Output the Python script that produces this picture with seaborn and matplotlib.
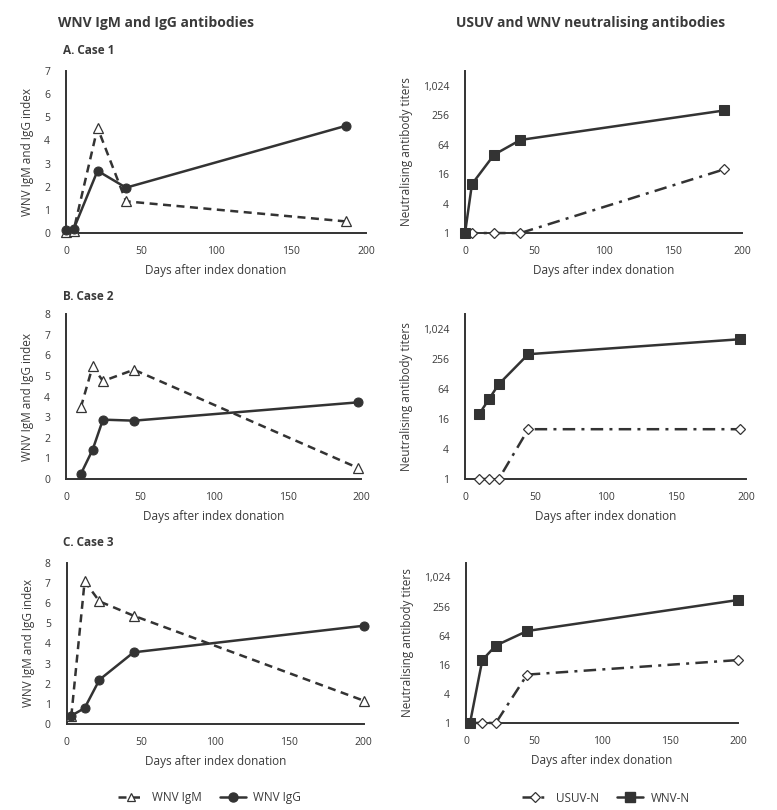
"""WNV IgM/IgG indices and USUV/WNV neutralising titers for three cases."""

import matplotlib
matplotlib.use("Agg")
import matplotlib.pyplot as plt
import seaborn as sns
from matplotlib.lines import Line2D

# ---- data ------------------------------------------------------------------
case1_igm_days = [0, 5, 21, 40, 187]
case1_igm = [0.03, 0.1, 4.55, 1.37, 0.5]
case1_igg_days = [0, 5, 21, 40, 187]
case1_igg = [0.13, 0.16, 2.69, 1.96, 4.64]
case1_n_days = [0, 5, 21, 40, 187]
case1_usuv = [1, 1, 1, 1, 20]
case1_wnv = [1, 10, 40, 80, 320]

case2_igm_days = [10, 18, 25, 46, 198]
case2_igm = [3.47, 5.46, 4.75, 5.3, 0.53]
case2_igg_days = [10, 18, 25, 46, 198]
case2_igg = [0.24, 1.42, 2.88, 2.83, 3.72]
case2_n_days = [10, 17, 24, 45, 196]
case2_usuv = [1, 1, 1, 10, 10]
case2_wnv = [20, 40, 80, 320, 640]

case3_igm_days = [3, 12, 22, 45, 200]
case3_igm = [0.38, 7.09, 6.09, 5.38, 1.16]
case3_igg_days = [3, 12, 22, 45, 200]
case3_igg = [0.41, 0.79, 2.2, 3.56, 4.88]
case3_n_days = [3, 12, 22, 45, 200]
case3_usuv = [1, 1, 1, 10, 20]
case3_wnv = [1, 20, 40, 80, 350]

case_labels = ["A. Case 1", "B. Case 2", "C. Case 3"]
igg_ymax = [7, 8, 8]
titer_ticks = [1, 4, 16, 64, 256, 1024]
titer_labels = ["1", "4", "16", "64", "256", "1,024"]

INK = "#333333"
TEXT = "#3a3a3a"
FONT = ["Open Sans", "DejaVu Sans"]

IGM_DASH = (0, (3.2, 2.2))
USUV_DASH = (0, (5, 2.5, 1.2, 2.5))


def style_axis(ax):
    sns.despine(ax=ax)
    for side in ("left", "bottom"):
        ax.spines[side].set_color(INK)
        ax.spines[side].set_linewidth(1.4)
    ax.tick_params(axis="both", colors=INK, labelcolor=TEXT, labelsize=7.5,
                   length=3.5, width=1.2, direction="out")
    ax.tick_params(axis="y", pad=8)
    ax.tick_params(axis="x", pad=6)
    ax.tick_params(which="minor", length=0)
    ax.set_xlim(0, 200)
    ax.set_xticks([0, 50, 100, 150, 200])
    ax.grid(False)
    ax.set_xlabel("Days after index donation", fontsize=8.5, color=TEXT, labelpad=5)


def draw_igm_igg(ax, igm_days, igm, igg_days, igg, ymax):
    sns.lineplot(x=igm_days, y=igm, ax=ax, color=INK, linewidth=1.8,
                 linestyle=IGM_DASH, marker="^", markersize=6.5,
                 markerfacecolor="white", markeredgecolor=INK, markeredgewidth=0.9,
                 sort=False, zorder=3, clip_on=False)
    sns.lineplot(x=igg_days, y=igg, ax=ax, color=INK, linewidth=1.8,
                 marker="o", markersize=6.5, markerfacecolor=INK,
                 markeredgecolor=INK, sort=False, zorder=4, clip_on=False)
    style_axis(ax)
    ax.set_ylim(0, ymax)
    ax.set_yticks(range(0, ymax + 1))
    ax.set_ylabel("WNV IgM and IgG index", fontsize=8.5, color=TEXT, labelpad=7)


def draw_titers(ax, days, usuv, wnv):
    sns.lineplot(x=days, y=usuv, ax=ax, color=INK, linewidth=1.8,
                 linestyle=USUV_DASH, marker="D", markersize=5,
                 markerfacecolor="white", markeredgecolor=INK, markeredgewidth=0.9,
                 sort=False, zorder=3, clip_on=False)
    sns.lineplot(x=days, y=wnv, ax=ax, color=INK, linewidth=1.8,
                 marker="s", markersize=6.5, markerfacecolor=INK,
                 markeredgecolor=INK, sort=False, zorder=4, clip_on=False)
    ax.set_yscale("log", base=2)
    style_axis(ax)
    ax.set_ylim(1, 2048)
    ax.set_yticks(titer_ticks)
    ax.set_yticklabels(titer_labels)
    ax.set_ylabel("Neutralising antibody titers", fontsize=8.5, color=TEXT, labelpad=7)


def main():
    sns.set_theme(style="white")
    plt.rcParams["font.family"] = FONT

    fig = plt.figure(figsize=(7.77, 8.10), dpi=100)

    left_boxes = [
        [0.085, 0.7123, 0.386, 0.200],
        [0.085, 0.4086, 0.380, 0.2037],
        [0.086, 0.1062, 0.382, 0.1988],
    ]
    right_boxes = [
        [0.5985, 0.7123, 0.3565, 0.200],
        [0.5985, 0.4086, 0.3617, 0.2037],
        [0.5997, 0.1075, 0.3500, 0.1975],
    ]
    label_y = [1 - 50 / 810, 1 - 296 / 810, 1 - 543 / 810]

    igm_sets = [(case1_igm_days, case1_igm, case1_igg_days, case1_igg),
                (case2_igm_days, case2_igm, case2_igg_days, case2_igg),
                (case3_igm_days, case3_igm, case3_igg_days, case3_igg)]
    titer_sets = [(case1_n_days, case1_usuv, case1_wnv),
                  (case2_n_days, case2_usuv, case2_wnv),
                  (case3_n_days, case3_usuv, case3_wnv)]

    for i in range(3):
        ax_l = fig.add_axes(left_boxes[i])
        draw_igm_igg(ax_l, *igm_sets[i], igg_ymax[i])
        ax_r = fig.add_axes(right_boxes[i])
        draw_titers(ax_r, *titer_sets[i])
        fig.text(0.081, label_y[i], case_labels[i], fontsize=8.5, fontweight="bold",
                 color=TEXT, va="center")

    fig.text(0.075, 1 - 23 / 810, "WNV IgM and IgG antibodies", fontsize=10,
             fontweight="bold", color=TEXT, va="center")
    fig.text(0.587, 1 - 23 / 810, "USUV and WNV neutralising antibodies", fontsize=10,
             fontweight="bold", color=TEXT, va="center")

    left_handles = [
        Line2D([], [], color=INK, lw=1.8, ls=IGM_DASH, marker="^", ms=6,
               mfc="white", mec=INK, mew=0.9),
        Line2D([], [], color=INK, lw=1.8, marker="o", ms=6.5, mfc=INK, mec=INK),
    ]
    right_handles = [
        Line2D([], [], color=INK, lw=1.8, ls=USUV_DASH, marker="D", ms=5,
               mfc="white", mec=INK, mew=0.9),
        Line2D([], [], color=INK, lw=1.8, marker="s", ms=6.5, mfc=INK, mec=INK),
    ]
    for handles, labels, cx in [(left_handles, ["WNV IgM", "WNV IgG"], 0.27),
                                (right_handles, ["USUV-N", "WNV-N"], 0.78)]:
        leg = fig.legend(handles, labels, loc="center", bbox_to_anchor=(cx, 1 - 798 / 810),
                         ncol=2, frameon=False, fontsize=8.5, handlelength=2.2,
                         columnspacing=1.6, handletextpad=0.6)
        for t in leg.get_texts():
            t.set_color(TEXT)

    fig.savefig("out.png", dpi=100)


if __name__ == "__main__":
    main()
